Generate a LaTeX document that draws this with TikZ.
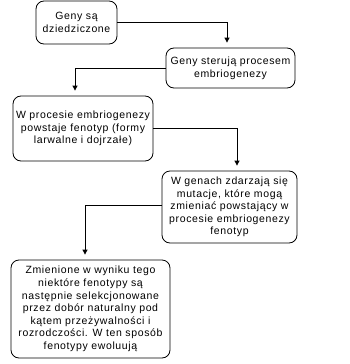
\documentclass[tikz,border=0pt]{standalone}
\usepackage{fontspec}
\setmainfont{Liberation Sans}[LetterSpace=6]
\usetikzlibrary{arrows.meta}
\begin{document}
\begin{tikzpicture}[x=1pt,y=-1pt,
  box/.style={draw,rounded corners=8pt,line width=0.8pt,align=center,inner sep=0pt,
    font=\fontsize{10.5}{12.6}\selectfont},
  conn/.style={line width=0.8pt,-{Triangle[width=5pt,length=5pt]},shorten >=5pt}]
\useasboundingbox (0,0) rectangle (350,364);
\node[box,minimum width=81pt,minimum height=43pt] (b1) at (76.5,22.5) {Geny są\\dziedziczone};
\node[box,minimum width=129pt,minimum height=40pt] (b2) at (230.5,68) {Geny sterują procesem\\embriogenezy};
\node[box,minimum width=140pt,minimum height=65pt] (b3) at (83,128.5) {W procesie embriogenezy\\powstaje fenotyp (formy\\larwalne i dojrzałe)};
\node[box,minimum width=135pt,minimum height=72pt] (b4) at (229.5,207) {W genach zdarzają się\\mutacje, które mogą\\zmieniać powstający w\\procesie embriogenezy\\fenotyp};
\node[box,minimum width=159pt,minimum height=98pt] (b5) at (90.5,309) {Zmienione w wyniku tego\\niektóre fenotypy są\\następnie selekcjonowane\\przez dobór naturalny pod\\kątem przeżywalności i\\rozrodczości. W ten sposób\\fenotypy ewoluują};
\draw[conn] (b1.east) -| ([xshift=-3.5pt]b2.north);
\draw[conn] (b2.west) -| ([xshift=-8pt]b3.north);
\draw[conn] (b3.east) -| ([xshift=7.5pt]b4.north);
\draw[conn] ([yshift=2pt]b4.west) -| ([xshift=-5.5pt]b5.north);
\end{tikzpicture}
\end{document}
